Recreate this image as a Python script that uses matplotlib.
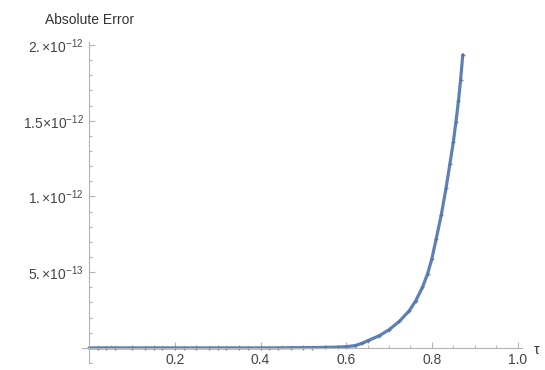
import numpy as np
import matplotlib
matplotlib.use("Agg")
import matplotlib.pyplot as plt
from matplotlib.ticker import FixedLocator, MultipleLocator

plt.rcParams['font.family'] = ['Liberation Sans', 'DejaVu Sans']
plt.rcParams['mathtext.fontset'] = 'custom'
plt.rcParams['mathtext.rm'] = 'Liberation Sans'
plt.rcParams['mathtext.it'] = 'Liberation Sans:italic'

# absolute error vs tau
tau = [0.0, 0.02, 0.04, 0.06, 0.10, 0.13, 0.15, 0.17, 0.20, 0.22, 0.25,
       0.28, 0.30, 0.32, 0.35, 0.37, 0.40, 0.42, 0.44, 0.47, 0.50, 0.52,
       0.55, 0.58, 0.60, 0.62, 0.637, 0.65, 0.677, 0.70, 0.724, 0.747,
       0.762, 0.778, 0.79, 0.80, 0.81, 0.822, 0.833, 0.842, 0.85, 0.856,
       0.862, 0.867, 0.872]
err = [0.0, 0.0, 0.0, 0.0, 0.0, 0.0, 0.0, 0.0, 0.0, 0.0, 0.0,
       0.0, 0.0, 0.0, 0.0, 0.0, 0.0, 0.0, 0.0, 0.001, 0.002, 0.002,
       0.003, 0.005, 0.008, 0.015, 0.03, 0.047, 0.08, 0.12, 0.175, 0.245,
       0.31, 0.40, 0.49, 0.59, 0.72, 0.88, 1.055, 1.215, 1.36, 1.49,
       1.63, 1.77, 1.935]
err = [e * 1e-12 for e in err]

yticks = [5e-13, 1e-12, 1.5e-12, 2e-12]
ylabels = [r'$5.{\times}10^{-13}$', r'$1.{\times}10^{-12}$',
           r'$1.5{\times}10^{-12}$', r'$2.{\times}10^{-12}$']
xticks = [0.2, 0.4, 0.6, 0.8, 1.0]
xlabels = ['0.2', '0.4', '0.6', '0.8', '1.0']

blue = '#5e81b5'
grey = '#b3b3b3'

fig = plt.figure(figsize=(5.45, 3.70), dpi=100)
ax = fig.add_axes([0.1505, 0.0189, 0.807, 0.8676])

ax.plot(tau, err, color=blue, lw=2.3, solid_capstyle='round')
ax.plot(tau, err, ls='none', marker='+', ms=3.5, mew=0.9, color='#4f72a8', alpha=0.8)

ax.set_xlim(-0.017, 1.01)
ax.set_ylim(-0.1e-12, 2.02e-12)

ax.spines['left'].set_position(('data', 0))
ax.spines['bottom'].set_position(('data', 0))
ax.spines['right'].set_visible(False)
ax.spines['top'].set_visible(False)
for s in ['left', 'bottom']:
    ax.spines[s].set_color(grey)
    ax.spines[s].set_linewidth(0.8)

ax.xaxis.set_major_locator(FixedLocator(xticks))
ax.set_xticklabels(xlabels)
ax.xaxis.set_minor_locator(MultipleLocator(0.05))
ax.yaxis.set_major_locator(FixedLocator(yticks))
ax.set_yticklabels(ylabels)
ax.yaxis.set_minor_locator(MultipleLocator(1e-13))

ax.tick_params(which='both', direction='in', color=grey, width=0.8,
               labelsize=10, labelcolor='#444444')
ax.tick_params(which='major', length=4, pad=4)
ax.tick_params(which='minor', length=2.5)

fig.text(89.5 / 545, 1 - 20 / 370, 'Absolute Error', ha='center', va='center',
         fontsize=10, color='#333333')
fig.text(537 / 545, 1 - 350 / 370, 'τ', ha='center', va='center',
         fontsize=10, color='#333333')

fig.savefig('out.png', dpi=100)
